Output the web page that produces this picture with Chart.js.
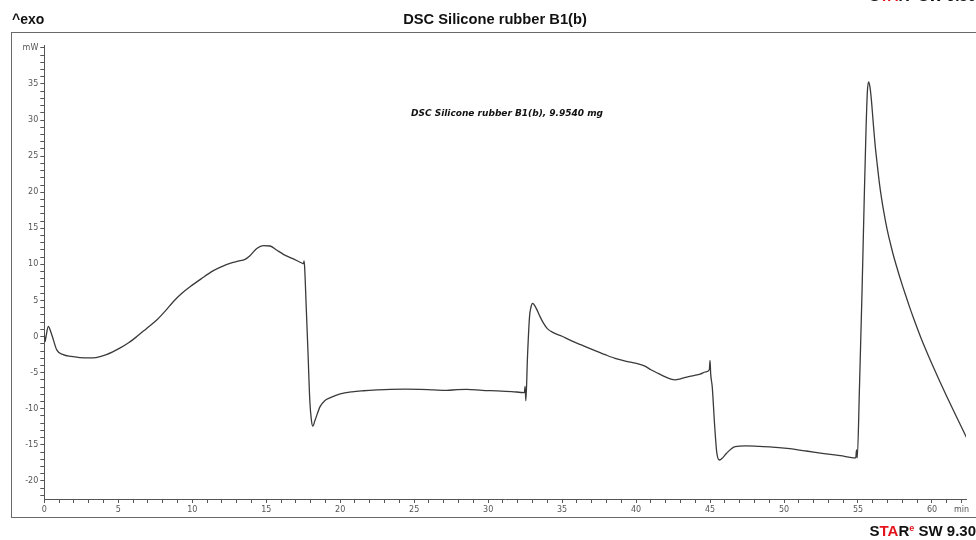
<!DOCTYPE html>
<html>
<head>
<meta charset="utf-8">
<script src="https://cdn.jsdelivr.net/npm/chart.js@4/dist/chart.umd.min.js"></script>
<style>
  body { margin: 0; background: #fff; }
  #wrap { position: relative; width: 976px; height: 540px; overflow: hidden; font-family: "Liberation Sans", Arial, sans-serif; }
  #frame { position: absolute; left: 11px; top: 32px; width: 980px; height: 486px; border: 1px solid #6a6a6a; box-sizing: border-box; }
  #chart { position: absolute; left: 0; top: 0; }
  .lbl { position: absolute; white-space: nowrap; font-weight: bold; color: #111; }
  #exo { left: 12px; top: 11px; font-size: 14px; }
  #title { left: 395px; width: 200px; top: 11px; font-size: 14.7px; text-align: center; }
  .star { right: 0; font-size: 15px; }
  .star .r { color: #e3141b; }
  .star sup { color: #e3141b; font-size: 9px; vertical-align: 5px; }
  #starTop { top: -13px; }
  #starBottom { top: 522px; }
  #note { left: 411px; top: 108px; font-family: "DejaVu Sans", Verdana, sans-serif; font-style: italic; font-size: 9px; }
</style>
</head>
<body>
<div id="wrap">
  <div id="frame"></div>
  <canvas id="chart" width="976" height="540"></canvas>
  <div class="lbl" id="exo">^exo</div>
  <div class="lbl" id="title">DSC Silicone rubber B1(b)</div>
  <div class="lbl star" id="starTop">S<span class="r">TA</span>R<sup>e</sup> SW 9.30</div>
  <div class="lbl star" id="starBottom">S<span class="r">TA</span>R<sup>e</sup> SW 9.30</div>
  <div class="lbl" id="note">DSC Silicone rubber B1(b), 9.9540 mg</div>
</div>
<script>
// time in min, heat flow in mW
const time = [
  0, 0.05, 0.1, 0.27, 0.5, 0.84, 1.28, 1.8, 2.4, 3.0, 3.5, 4.2, 5.1, 5.7, 6.25, 6.9, 7.6, 8.2, 8.7, 9.3,
  9.85, 10.6, 11.4, 12.0, 12.55, 13.1, 13.57, 13.9, 14.36, 14.8, 15.26, 15.7, 16.16, 16.8, 17.4, 17.52, 17.56, 17.6,
  17.7, 17.82, 17.95, 18.05, 18.15, 18.3, 18.64, 18.95, 19.3, 20.0, 20.8, 21.57, 22.5, 23.4, 24.4, 25.4, 26.3,
  27.2, 27.9, 28.56, 29.6, 30.6, 31.6, 32.45, 32.5, 32.55, 32.66, 32.8, 32.9, 33.0, 33.15, 33.3, 33.5, 33.74,
  34.0, 34.4, 35.0, 35.5, 36.3, 37.1, 37.9, 38.7, 39.5, 40.2, 40.6, 41.0, 41.5, 41.9, 42.3, 42.65, 43.0, 43.43,
  43.9, 44.33, 44.7, 44.95, 45.0, 45.04, 45.15, 45.3, 45.45, 45.64, 45.85, 46.1, 46.4, 46.7, 47.4, 48.2, 49.2,
  50.2, 51.5, 52.7, 53.8, 54.85, 54.9, 54.95, 55.1, 55.27, 55.42, 55.54, 55.63, 55.71, 55.8, 55.9, 56.0, 56.05,
  56.15, 56.3, 56.45, 56.6, 56.75, 56.9, 57.05, 57.2, 57.4, 57.6, 57.8, 58.0, 58.25, 58.5, 58.75, 59.0, 59.25,
  59.5, 59.75, 60.0, 60.5, 61.0, 61.5, 62.0, 62.45
];
const heatFlow = [
  0.3, -0.7, -0.2, 1.4, 0.3, -1.84, -2.5, -2.75, -2.9, -2.95, -2.9, -2.5, -1.6, -0.85, 0, 1.1, 2.3, 3.6, 4.8, 6.0,
  6.9, 8.0, 9.1, 9.7, 10.15, 10.45, 10.7, 11.2, 12.2, 12.6, 12.55, 12.0, 11.4, 10.8, 10.2, 10.1, 10.5, 9.5,
  4.3, -2, -9.0, -11.5, -12.4, -11.6, -9.7, -8.9, -8.5, -7.95, -7.65, -7.5, -7.38, -7.3, -7.28, -7.3, -7.38,
  -7.45, -7.35, -7.32, -7.45, -7.52, -7.62, -7.75, -6.9, -8.9, -2.8, 2.8, 4.1, 4.6, 4.3, 3.7, 2.8, 1.86,
  1.1, 0.55, 0.05, -0.46, -1.15, -1.84, -2.5, -3.1, -3.5, -3.8, -4.1, -4.6, -5.1, -5.5, -5.85, -6.0, -5.85, -5.6,
  -5.4, -5.2, -4.9, -4.6, -3.3, -5.1, -7, -12, -16, -17.1, -16.8, -16.2, -15.6, -15.25, -15.15, -15.2, -15.3,
  -15.5, -15.85, -16.2, -16.5, -16.8, -15.7, -16.8, -7.0, 6.0, 19.0, 28.5, 33.8, 35.3, 34.7, 32.9, 30.4, 29.1,
  26.7, 23.85, 21.2, 19.05, 17.2, 15.55, 14.1, 12.82, 11.2, 9.78, 8.4, 7.1, 5.55, 4.02, 2.58, 1.19, -0.15,
  -1.41, -2.63, -3.81, -6.09, -8.29, -10.44, -12.57, -14.46
];

// axis ranges and labelled ticks
const xRange = [0, 62.3];
const yRange = [-22.5, 40.4];
const xLabelStep = 5;
const yLabelStep = 5;
const xUnit = "min";
const yUnit = "mW";
const xUnitAt = 62;
const yUnitAt = 40;

const points = time.map((t, i) => ({ x: t, y: heatFlow[i] }));

function intTicks(from, to) {
  const out = [];
  for (let v = Math.ceil(from); v <= to; v++) out.push({ value: v });
  return out;
}

const tickFont = { family: "DejaVu Sans", size: 8 };

new Chart(document.getElementById("chart").getContext("2d"), {
  type: "line",
  data: {
    datasets: [{
      data: points,
      borderColor: "#3a3a3a",
      borderWidth: 1.3,
      pointRadius: 0,
      cubicInterpolationMode: "monotone",
      fill: false,
    }],
  },
  options: {
    responsive: false,
    animation: false,
    events: [],
    layout: { padding: { left: 14, right: 10, top: 45, bottom: 21 } },
    plugins: { legend: { display: false }, tooltip: { enabled: false } },
    scales: {
      x: {
        type: "linear",
        min: xRange[0],
        max: xRange[1],
        afterBuildTicks: (scale) => { scale.ticks = intTicks(0, xUnitAt); },
        afterFit: (scale) => { scale.height = 20; },
        border: { display: true, color: "#555", width: 1 },
        grid: { drawOnChartArea: false, drawTicks: true, tickLength: 4, color: "#555" },
        ticks: {
          autoSkip: false,
          maxRotation: 0,
          padding: 2,
          color: "#555",
          font: tickFont,
          callback: (v) => (v === xUnitAt ? xUnit : v % xLabelStep === 0 ? String(v) : ""),
        },
      },
      y: {
        min: yRange[0],
        max: yRange[1],
        afterBuildTicks: (scale) => { scale.ticks = intTicks(-22, yUnitAt); },
        afterFit: (scale) => { scale.width = 30.3; },
        border: { display: true, color: "#555", width: 1 },
        grid: { drawOnChartArea: false, drawTicks: true, tickLength: 4, color: "#555" },
        ticks: {
          autoSkip: false,
          padding: 2,
          color: "#555",
          font: tickFont,
          callback: (v) => (v === yUnitAt ? yUnit : v % yLabelStep === 0 ? String(v) : ""),
        },
      },
    },
  },
});
</script>
</body>
</html>
